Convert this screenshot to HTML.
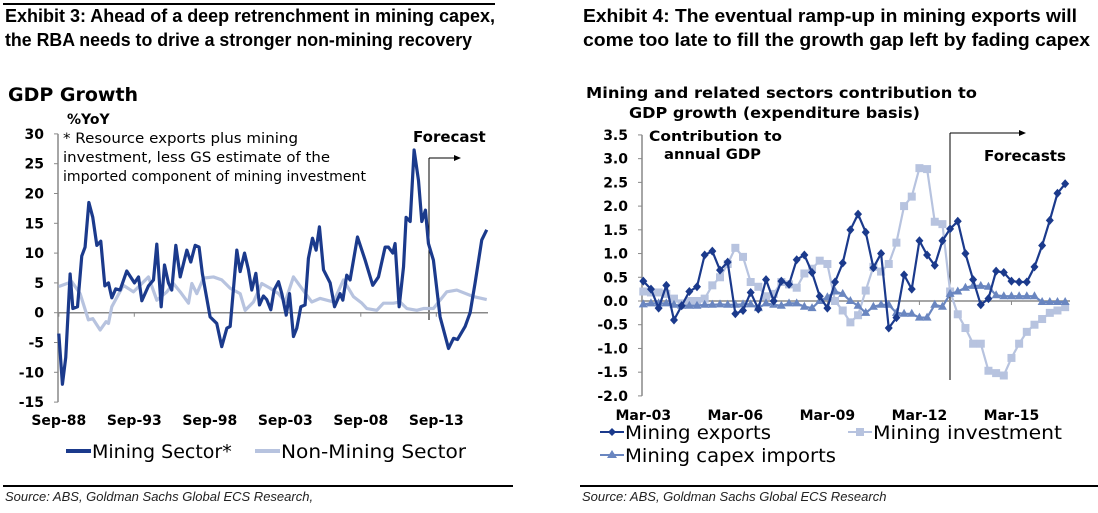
<!DOCTYPE html>
<html><head><meta charset="utf-8">
<style>
html,body{margin:0;padding:0;background:#fff;}
svg{display:block;font-family:"DejaVu Sans","Liberation Sans",sans-serif;}
.ttl{font-family:"Liberation Sans",sans-serif;font-weight:bold;font-size:18px;fill:#000;}
.src{font-family:"Liberation Sans",sans-serif;font-style:italic;font-size:13px;fill:#222;}
.tk{font-weight:bold;font-size:14px;fill:#000;}
.lg{font-size:19px;fill:#000;}
</style></head>
<body>
<svg id="s" width="1098" height="513" viewBox="0 0 1098 513">
<line x1="3" y1="4" x2="495" y2="4" stroke="#000" stroke-width="2"/>
<text class="ttl" x="5" y="22" textLength="490" lengthAdjust="spacingAndGlyphs">Exhibit 3: Ahead of a deep retrenchment in mining capex,</text>
<text class="ttl" x="5" y="46" textLength="467" lengthAdjust="spacingAndGlyphs">the RBA needs to drive a stronger non-mining recovery</text>
<text class="ttl" x="583" y="22" textLength="494" lengthAdjust="spacingAndGlyphs">Exhibit 4: The eventual ramp-up in mining exports will</text>
<text class="ttl" x="583" y="46" textLength="507" lengthAdjust="spacingAndGlyphs">come too late to fill the growth gap left by fading capex</text>

<text x="8" y="101" style="font-weight:bold;font-size:19px">GDP Growth</text>
<text x="67" y="124" class="tk">%YoY</text>
<g style="font-size:14.5px">
<text x="63" y="143" textLength="235" lengthAdjust="spacingAndGlyphs">* Resource exports plus mining</text>
<text x="63" y="162" textLength="267" lengthAdjust="spacingAndGlyphs">investment, less GS estimate of the</text>
<text x="63" y="181" textLength="303" lengthAdjust="spacingAndGlyphs">imported component of mining investment</text>
</g>
<text x="413" y="142" class="tk" style="font-size:15px">Forecast</text>
<line x1="429" y1="158" x2="429" y2="320" stroke="#000" stroke-width="1"/>
<line x1="429" y1="158" x2="457" y2="158" stroke="#000" stroke-width="1"/>
<polygon points="461,158 454,155 454,161" fill="#000"/>
<g id="L"></g>

<text x="586" y="98" textLength="391" lengthAdjust="spacingAndGlyphs" style="font-weight:bold;font-size:15.5px">Mining and related sectors contribution to</text>
<text x="629" y="118" textLength="291" lengthAdjust="spacingAndGlyphs" style="font-weight:bold;font-size:15.5px">GDP growth (expenditure basis)</text>
<text x="649" y="141" class="tk" textLength="133" lengthAdjust="spacingAndGlyphs">Contribution to</text>
<text x="664" y="159" class="tk" textLength="97" lengthAdjust="spacingAndGlyphs">annual GDP</text>
<text x="984" y="161" class="tk" style="font-size:15px" textLength="82" lengthAdjust="spacingAndGlyphs">Forecasts</text>
<line x1="950" y1="133" x2="950" y2="380" stroke="#000" stroke-width="1"/>
<line x1="950" y1="133" x2="1024" y2="133" stroke="#000" stroke-width="1"/>
<polygon points="1026,133 1019,130 1019,136" fill="#000"/>
<g id="R"></g>

<g>
<line x1="66" y1="451" x2="91" y2="451" stroke="#1b3a8c" stroke-width="4"/>
<text class="lg" x="92" y="458">Mining Sector*</text>
<line x1="255" y1="451" x2="280" y2="451" stroke="#b7c3df" stroke-width="4"/>
<text class="lg" x="281" y="458" textLength="185" lengthAdjust="spacingAndGlyphs">Non-Mining Sector</text>
</g>
<g>
<line x1="600" y1="432" x2="624" y2="432" stroke="#1b3a8c" stroke-width="2"/>
<polygon points="612,428 616,432 612,436 608,432" fill="#1b3a8c"/>
<text class="lg" x="625" y="439" textLength="146" lengthAdjust="spacingAndGlyphs">Mining exports</text>
<line x1="848" y1="432" x2="872" y2="432" stroke="#b7c3df" stroke-width="2"/>
<rect x="856" y="428" width="8" height="8" fill="#b7c3df"/>
<text class="lg" x="873" y="439" textLength="189" lengthAdjust="spacingAndGlyphs">Mining investment</text>
<line x1="600" y1="455" x2="624" y2="455" stroke="#6a86c0" stroke-width="2"/>
<polygon points="612,450 617,458 607,458" fill="#6a86c0"/>
<text class="lg" x="625" y="462" textLength="211" lengthAdjust="spacingAndGlyphs">Mining capex imports</text>
</g>

<line x1="3" y1="486" x2="513" y2="486" stroke="#000" stroke-width="2"/>
<text class="src" x="5" y="501">Source: ABS, Goldman Sachs Global ECS Research,</text>
<line x1="580" y1="486" x2="1098" y2="486" stroke="#000" stroke-width="2"/>
<text class="src" x="582" y="501">Source: ABS, Goldman Sachs Global ECS Research</text>
</svg>
<script>
// ---- Left chart data (time in years since Sep-88) ----
const leftYTicks = [30,25,20,15,10,5,0,-5,-10,-15];
const leftXLabels = ["Sep-88","Sep-93","Sep-98","Sep-03","Sep-08","Sep-13"];
const mineT = [0,.24,.46,.75,.93,1.24,1.52,1.74,1.99,2.25,2.52,2.78,3.05,3.29,3.51,3.77,4.06,4.5,5.01,5.28,5.5,5.94,6.27,6.49,6.78,7.0,7.26,7.48,7.75,8.04,8.48,8.74,9.03,9.29,9.51,10.02,10.46,10.79,11.13,11.35,11.79,12.01,12.3,12.56,12.78,13.05,13.29,13.55,13.77,14.04,14.26,14.55,14.77,15.06,15.28,15.54,15.76,16.03,16.31,16.53,16.8,17.04,17.26,17.53,17.97,18.26,18.63,18.81,19.07,19.29,19.78,20.29,20.79,21.17,21.61,21.83,22.12,22.27,22.54,22.83,23.0,23.27,23.53,23.82,24.04,24.28,24.48,24.81,25.25,25.81,26.14,26.4,26.91,27.24,27.57,28.01,28.34];
const mineV = [-3.5,-12,-7.5,6.5,0.7,1,9.5,11,18.5,16,11.3,12,4.5,5,2.5,4,3.8,7,5,6,2,4.5,5.5,11.5,1,8,5,3.8,11.3,6,10.5,8.5,11.3,11,6.5,-0.7,-1.8,-5.7,-2.6,-2.3,10.5,6.9,10,7.2,3.8,6.6,1.3,2.8,2.2,0.5,3.8,5.2,3.2,-0.4,3.2,-4,-2.6,1,1.3,9.1,12.5,10.5,14.4,7.2,5,1,3.2,2.1,6.3,5.5,12.7,8.8,4.6,6,11,11,10,11.6,1,7.7,16,15.3,27.3,22.2,15.3,17.2,11.6,8.8,-0.7,-6,-4.3,-4.5,-2.3,0,5,12.2,13.9];
const nonT = [0,.86,1.41,1.96,2.25,2.74,3.13,3.29,3.51,4.28,4.94,5.94,6.49,7.15,7.59,8.04,8.59,8.81,9.14,9.58,10.24,10.79,11.35,12.01,12.34,12.89,13.44,14.0,14.55,14.99,15.54,16.09,16.75,17.31,18.19,18.85,19.51,20.07,20.4,21.06,21.5,22.16,22.6,23.05,23.71,24.15,24.81,25.69,26.36,27.46,28.34];
const nonV = [4.4,5.2,3.2,-1.2,-1,-2.9,-1.5,-1.8,1,4.6,3.5,6,2.1,3.5,4.9,3.5,1.6,4.9,3.2,5.8,6,5.5,4.1,3.2,0.4,1.8,4.9,4.1,3.2,1.8,6,4.1,1.8,2.4,1.8,5.5,2.7,1.6,0.7,0.4,1.6,1.6,1.8,0.7,0.4,0.7,0.7,3.5,3.8,2.7,2.2];

// ---- Right chart data (quarters from Mar-03) ----
const rightYTicks = [3.5,3.0,2.5,2.0,1.5,1.0,0.5,0.0,-0.5,-1.0,-1.5,-2.0];
const rightXLabels = ["Mar-03","Mar-06","Mar-09","Mar-12","Mar-15"];
const exportsV = [0.42,0.25,-0.15,0.33,-0.4,-0.1,0.2,0.3,0.97,1.05,0.65,0.82,-0.27,-0.2,0.18,-0.17,0.45,0,0.42,0.35,0.87,0.97,0.6,0.1,-0.15,0.4,0.8,1.5,1.83,1.45,0.7,1.0,-0.57,-0.35,0.55,0.25,1.27,0.97,0.75,1.27,1.52,1.68,1.0,0.45,-0.08,0.05,0.63,0.6,0.42,0.4,0.4,0.72,1.17,1.7,2.27,2.47];
const investV = [0.2,0.18,0.18,0.15,0.05,-0.05,0,0,0.05,0.33,0.5,0.78,1.12,0.93,0.4,0.3,0.1,0.15,0.4,0.35,0.28,0.58,0.68,0.85,0.78,0,-0.2,-0.45,-0.3,0.22,0.72,0.62,0.78,1.23,2.0,2.2,2.8,2.78,1.67,1.62,0.2,-0.28,-0.57,-0.9,-0.9,-1.47,-1.52,-1.57,-1.2,-0.9,-0.65,-0.5,-0.38,-0.25,-0.2,-0.13];
const capexV = [-0.07,-0.05,-0.05,-0.05,-0.08,-0.1,-0.1,-0.1,-0.08,-0.08,-0.07,-0.08,-0.08,-0.07,-0.07,-0.15,-0.05,-0.08,-0.1,-0.05,-0.05,-0.12,-0.15,0,0.08,0.2,0.15,0,-0.1,-0.25,-0.12,-0.08,-0.08,-0.25,-0.27,-0.27,-0.35,-0.35,-0.08,-0.12,0.15,0.2,0.28,0.32,0.32,0.3,0.12,0.1,0.1,0.1,0.1,0.1,-0.02,-0.02,-0.02,-0.02];

const NS="http://www.w3.org/2000/svg";
function mk(tag, attrs, parent){const e=document.createElementNS(NS,tag);for(const k in attrs)e.setAttribute(k,attrs[k]);parent.appendChild(e);return e;}

// Left axes
const L=document.getElementById('L');
const lx = t => 58.8 + t*15.1;
const ly = v => 312.7 - v*5.96;
mk('line',{x1:58,y1:ly(30),x2:58,y2:ly(-15),stroke:'#888','stroke-width':1.5},L);
mk('line',{x1:58,y1:ly(0),x2:488,y2:ly(0),stroke:'#888','stroke-width':1.5},L);
leftYTicks.forEach(v=>{
  mk('line',{x1:54,y1:ly(v),x2:58,y2:ly(v),stroke:'#888'},L);
  const t=mk('text',{x:44,y:ly(v)+5,'text-anchor':'end','class':'tk'},L);
  
  
  t.textContent=v;
});
leftXLabels.forEach((s,i)=>{
  const x=lx(i*5);
  mk('line',{x1:x,y1:ly(0),x2:x,y2:ly(0)+4,stroke:'#888'},L);
  const t=mk('text',{x:x,y:425,'text-anchor':'middle','class':'tk'},L);
  
  
  t.textContent=s;
});
const nonP=mk('polyline',{points:nonT.map((t,i)=>lx(t)+','+ly(nonV[i])).join(' '),fill:'none',stroke:'#b7c3df','stroke-width':3.2,'stroke-linejoin':'round'},L);


const minP=mk('polyline',{points:mineT.map((t,i)=>lx(t)+','+ly(mineV[i])).join(' '),fill:'none',stroke:'#1b3a8c','stroke-width':3.2,'stroke-linejoin':'round'},L);



// Right axes
const R=document.getElementById('R');
const rx = i => 643.3 + i*7.67;
const ry = v => 301 - v*47.45;
mk('line',{x1:642,y1:ry(3.5),x2:642,y2:ry(-2),stroke:'#888','stroke-width':1.5},R);
mk('line',{x1:642,y1:ry(0),x2:1070,y2:ry(0),stroke:'#888','stroke-width':1.5},R);
rightYTicks.forEach(v=>{
  mk('line',{x1:638,y1:ry(v),x2:642,y2:ry(v),stroke:'#888'},R);
  const t=mk('text',{x:628,y:ry(v)+5,'text-anchor':'end','class':'tk'},R);
  
  
  t.textContent=v.toFixed(1);
});
rightXLabels.forEach((s,i)=>{
  const x=rx(i*12);
  mk('line',{x1:x,y1:ry(0),x2:x,y2:ry(0)+4,stroke:'#888'},R);
  const t=mk('text',{x:x,y:420,'text-anchor':'middle','class':'tk'},R);
  
  
  t.textContent=s;
});
function series(vals,color,shape,name){
  const g=mk('g',{},R);
  
  
  mk('polyline',{points:vals.map((v,i)=>rx(i)+','+ry(v)).join(' '),fill:'none',stroke:color,'stroke-width':2.2,'stroke-linejoin':'round'},g);
  vals.forEach((v,i)=>{
    const x=rx(i),y=ry(v);
    if(shape==='d') mk('polygon',{points:`${x},${y-4.5} ${x+4},${y} ${x},${y+4.5} ${x-4},${y}`,fill:color},g);
    else if(shape==='s') mk('rect',{x:x-4,y:y-4,width:8,height:8,fill:color},g);
    else mk('polygon',{points:`${x},${y-5} ${x+4.5},${y+3} ${x-4.5},${y+3}`,fill:color},g);
  });
}
series(investV,'#b7c3df','s','mining-investment-series');
series(capexV,'#6a86c0','t','mining-capex-imports-series');
series(exportsV,'#1b3a8c','d','mining-exports-series');
</script>
</body></html>
